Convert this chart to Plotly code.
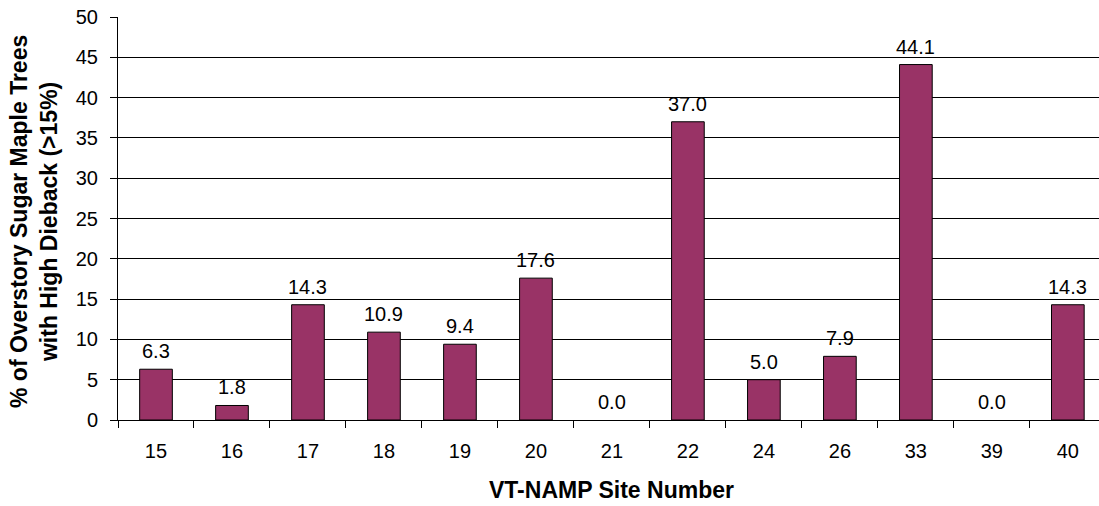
import plotly.graph_objects as go

sites = ["15", "16", "17", "18", "19", "20", "21", "22", "24", "26", "33", "39", "40"]
values = [6.3, 1.8, 14.3, 10.9, 9.4, 17.6, 0.0, 37.0, 5.0, 7.9, 44.1, 0.0, 14.3]
y_ticks = [0, 5, 10, 15, 20, 25, 30, 35, 40, 45, 50]

FONT = "Arial, Liberation Sans, sans-serif"

W, H = 1099, 506
L, R, T, B = 118, 0, 17, 86
pw, ph = W - L - R, H - T - B

def px_to_paper(xp, yp):
    return (xp - L) / pw, (H - B - yp) / ph

fig = go.Figure()
fig.add_trace(go.Bar(
    x=sites, y=values,
    marker=dict(color="#993366",
                line=dict(color="black", width=[0 if v == 0 else 1 for v in values])),
    width=0.43,
))

for i, v in enumerate(values):
    fig.add_annotation(x=i, y=v, xref="x", yref="y", text=f"{v:.1f}", showarrow=False,
                       yanchor="bottom", yshift=5,
                       font=dict(family=FONT, size=20, color="black"))

xt_x, xt_y = px_to_paper(611, 490)
fig.add_annotation(x=xt_x, y=xt_y, xref="paper", yref="paper", xanchor="center", yanchor="middle",
                   text="<b>VT-NAMP Site Number</b>",
                   showarrow=False, font=dict(family=FONT, size=23, color="black"))
yt_x, yt_y = px_to_paper(34, 222)
fig.add_annotation(x=yt_x, y=yt_y, xref="paper", yref="paper", xanchor="center", yanchor="middle",
                   text="<b>% of Overstory Sugar Maple Trees<br>with High Dieback (>15%)</b>",
                   showarrow=False, textangle=-90,
                   font=dict(family=FONT, size=23, color="black"))

fig.update_layout(
    width=W, height=H,
    margin=dict(l=L, r=R, t=T, b=B),
    paper_bgcolor="white", plot_bgcolor="white",
    showlegend=False,
    font=dict(family=FONT, size=20, color="black"),
    xaxis=dict(
        type="category", range=[-0.5, 12.41], automargin=False,
        showgrid=False, showline=True, linecolor="black", linewidth=1,
        ticks="outside", ticklen=7, tickcolor="black", tickson="boundaries",
        tickfont=dict(size=20), ticklabelstandoff=13,
    ),
    yaxis=dict(
        range=[0, 50], tickvals=y_ticks, automargin=False,
        showgrid=True, gridcolor="black", gridwidth=1,
        showline=True, linecolor="black", linewidth=1,
        ticks="outside", ticklen=7, tickcolor="black",
        zeroline=False,
        tickfont=dict(size=20), ticklabelstandoff=8,
    ),
)

fig.write_html("out.html", config={"displayModeBar": False},
               post_script="document.body.style.margin='0';document.body.style.overflow='hidden';")
